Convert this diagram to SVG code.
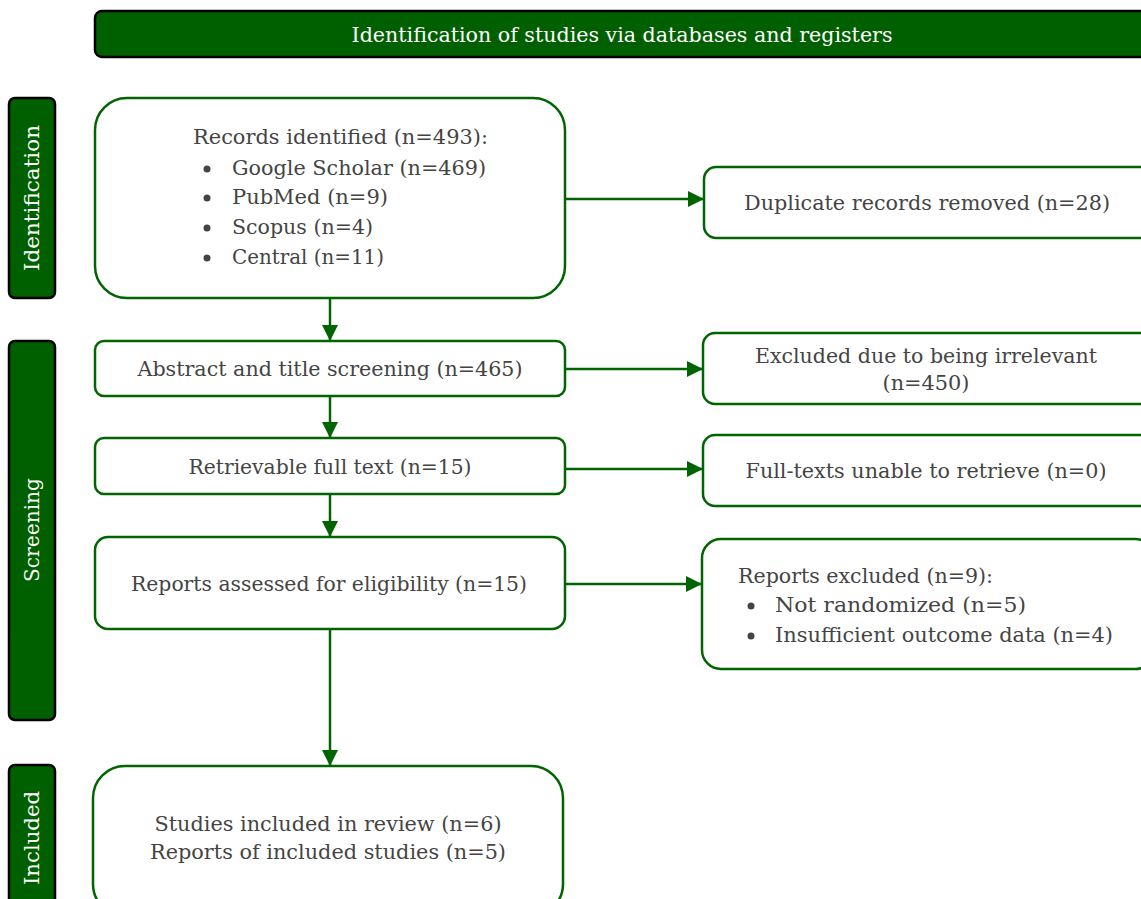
<svg xmlns="http://www.w3.org/2000/svg" width="1141" height="899" viewBox="0 0 1141 899">
<defs>
<style>
.band{fill:#006000;stroke:#000;stroke-width:2.5}
.band-t{fill:#fff;font-family:"DejaVu Serif","Liberation Serif",serif;font-size:20px;text-anchor:middle}
.box{fill:#fff;stroke:#006400;stroke-width:2.5}
.t{fill:#444;font-family:"DejaVu Serif","Liberation Serif",serif;font-size:20px}
.c{text-anchor:middle}
.bul{fill:#444}
.edge{stroke:#006400;stroke-width:2.5;fill:none}
</style>
<marker id="ah" viewBox="0 0 10 10" refX="10" refY="5" markerWidth="6.5" markerHeight="6.5" markerUnits="strokeWidth" orient="auto">
<path d="M0,0 L10,5 L0,10 z" fill="#006400"/>
</marker>
</defs>
<rect width="1141" height="899" fill="#fff"/>

<g id="banner">
<rect class="band" x="95" y="11" width="1060" height="46" rx="7"/>
<text class="band-t" x="622" y="42" textLength="541" lengthAdjust="spacingAndGlyphs">Identification of studies via databases and registers</text>
</g>

<g id="phase-identification">
<rect class="band" x="9" y="98" width="46" height="200" rx="6"/>
<text class="band-t" transform="translate(39,198) rotate(-90)" textLength="146" lengthAdjust="spacingAndGlyphs">Identification</text>
</g>
<g id="phase-screening">
<rect class="band" x="9" y="341" width="46" height="379" rx="6"/>
<text class="band-t" transform="translate(39,530) rotate(-90)" textLength="104" lengthAdjust="spacingAndGlyphs">Screening</text>
</g>
<g id="phase-included">
<rect class="band" x="9" y="765" width="46" height="150" rx="6"/>
<text class="band-t" transform="translate(39,838) rotate(-90)" textLength="94" lengthAdjust="spacingAndGlyphs">Included</text>
</g>

<g id="connectors">
<path class="edge" marker-end="url(#ah)" d="M330,298 V341"/>
<path class="edge" marker-end="url(#ah)" d="M330,396 V438"/>
<path class="edge" marker-end="url(#ah)" d="M330,494 V537"/>
<path class="edge" marker-end="url(#ah)" d="M330,629 V766"/>
<path class="edge" marker-end="url(#ah)" d="M565,199 H704"/>
<path class="edge" marker-end="url(#ah)" d="M565,369 H703"/>
<path class="edge" marker-end="url(#ah)" d="M565,469 H703"/>
<path class="edge" marker-end="url(#ah)" d="M565,584 H702"/>
</g>

<g id="records-identified">
<rect class="box" x="95" y="98" width="470" height="200" rx="32"/>
<text class="t" x="193" y="144" textLength="295" lengthAdjust="spacingAndGlyphs">Records identified (n=493):</text>
<circle class="bul" cx="207" cy="169" r="3.5"/>
<text class="t" x="232" y="175" textLength="254" lengthAdjust="spacingAndGlyphs">Google Scholar (n=469)</text>
<circle class="bul" cx="207" cy="198" r="3.5"/>
<text class="t" x="232" y="204" textLength="156" lengthAdjust="spacingAndGlyphs">PubMed (n=9)</text>
<circle class="bul" cx="207" cy="228" r="3.5"/>
<text class="t" x="232" y="234" textLength="141" lengthAdjust="spacingAndGlyphs">Scopus (n=4)</text>
<circle class="bul" cx="207" cy="258" r="3.5"/>
<text class="t" x="232" y="264" textLength="152" lengthAdjust="spacingAndGlyphs">Central (n=11)</text>
</g>

<g id="duplicates-removed">
<rect class="box" x="704" y="167" width="450" height="71" rx="12"/>
<text class="t c" x="927" y="210" textLength="366" lengthAdjust="spacingAndGlyphs">Duplicate records removed (n=28)</text>
</g>

<g id="abstract-screening">
<rect class="box" x="95" y="341" width="470" height="55" rx="9"/>
<text class="t c" x="330" y="376" textLength="385" lengthAdjust="spacingAndGlyphs">Abstract and title screening (n=465)</text>
</g>

<g id="excluded-irrelevant">
<rect class="box" x="703" y="333" width="451" height="71" rx="12"/>
<text class="t c" x="926" y="363" textLength="342" lengthAdjust="spacingAndGlyphs">Excluded due to being irrelevant</text>
<text class="t c" x="926" y="390" textLength="87" lengthAdjust="spacingAndGlyphs">(n=450)</text>
</g>

<g id="retrievable">
<rect class="box" x="95" y="438" width="470" height="56" rx="9"/>
<text class="t c" x="330" y="474" textLength="283" lengthAdjust="spacingAndGlyphs">Retrievable full text (n=15)</text>
</g>

<g id="unable-retrieve">
<rect class="box" x="703" y="435" width="451" height="71" rx="12"/>
<text class="t c" x="926" y="478" textLength="361" lengthAdjust="spacingAndGlyphs">Full-texts unable to retrieve (n=0)</text>
</g>

<g id="reports-assessed">
<rect class="box" x="95" y="537" width="470" height="92" rx="13"/>
<text class="t c" x="329" y="591" textLength="396" lengthAdjust="spacingAndGlyphs">Reports assessed for eligibility (n=15)</text>
</g>

<g id="reports-excluded">
<rect class="box" x="702" y="539" width="452" height="130" rx="19"/>
<text class="t" x="738" y="583" textLength="255" lengthAdjust="spacingAndGlyphs">Reports excluded (n=9):</text>
<circle class="bul" cx="751" cy="606" r="3.5"/>
<text class="t" x="775" y="612" textLength="251" lengthAdjust="spacingAndGlyphs">Not randomized (n=5)</text>
<circle class="bul" cx="751" cy="636" r="3.5"/>
<text class="t" x="775" y="642" textLength="338" lengthAdjust="spacingAndGlyphs">Insufficient outcome data (n=4)</text>
</g>

<g id="studies-included">
<rect class="box" x="93" y="766" width="470" height="150" rx="32"/>
<text class="t c" x="328" y="831" textLength="347" lengthAdjust="spacingAndGlyphs">Studies included in review (n=6)</text>
<text class="t c" x="328" y="859" textLength="356" lengthAdjust="spacingAndGlyphs">Reports of included studies (n=5)</text>
</g>
</svg>
